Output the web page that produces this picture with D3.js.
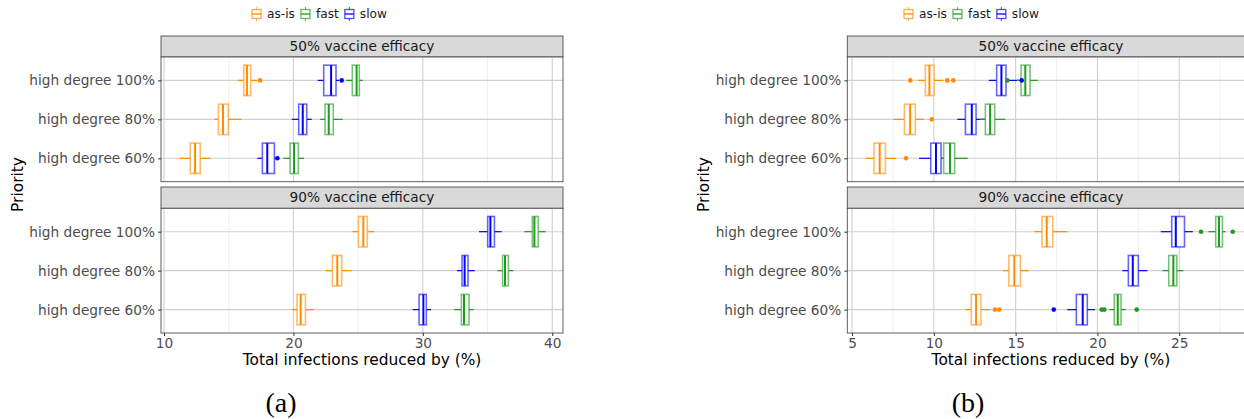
<!DOCTYPE html>
<html><head><meta charset="utf-8">
<script src="https://cdn.jsdelivr.net/npm/d3@7"></script>
<style>body{margin:0;background:#fff}svg{display:block}</style>
</head><body>
<svg id="chart" width="1244" height="419"></svg>
<script>
// ---------- DATA ----------
const priorities = ["high degree 100%", "high degree 80%", "high degree 60%"];
const strategies = ["as-is", "fast", "slow"];
const efficacies = ["50% vaccine efficacy", "90% vaccine efficacy"];
const xTicksA = [10, 20, 30, 40];
const xTicksB = [5, 10, 15, 20, 25];
const captions = ["(a)", "(b)"];
// rows: [priority, strategy, whiskerLow, q1, median, q3, whiskerHigh]
const statsA50 = [
  ["high degree 100%", "as-is", 15.72, 16.16, 16.41, 16.70, 17.21],
  ["high degree 100%", "slow", 21.88, 22.34, 22.91, 23.29, 23.55],
  ["high degree 100%", "fast", 24.07, 24.55, 24.88, 25.09, 25.36],
  ["high degree 80%", "as-is", 13.89, 14.20, 14.56, 14.97, 16.00],
  ["high degree 80%", "slow", 19.87, 20.41, 20.72, 21.03, 21.41],
  ["high degree 80%", "fast", 22.06, 22.44, 22.73, 23.08, 23.81],
  ["high degree 60%", "as-is", 11.18, 12.03, 12.40, 12.80, 13.61],
  ["high degree 60%", "slow", 17.21, 17.60, 17.98, 18.53, 18.66],
  ["high degree 60%", "fast", 19.22, 19.74, 20.05, 20.38, 20.82]
];
const outliersA50 = [
  ["high degree 100%", "as-is", 17.42],
  ["high degree 100%", "slow", 23.73],
  ["high degree 60%", "slow", 18.76]
];
const statsA90 = [
  ["high degree 100%", "as-is", 24.55, 25.02, 25.40, 25.71, 26.25],
  ["high degree 100%", "slow", 34.34, 35.01, 35.22, 35.53, 36.09],
  ["high degree 100%", "fast", 37.84, 38.46, 38.62, 38.92, 39.50],
  ["high degree 80%", "as-is", 22.48, 23.01, 23.39, 23.73, 24.50],
  ["high degree 80%", "slow", 32.64, 33.03, 33.23, 33.49, 34.01],
  ["high degree 80%", "fast", 35.76, 36.16, 36.35, 36.61, 36.99],
  ["high degree 60%", "as-is", 19.87, 20.28, 20.56, 20.93, 21.59],
  ["high degree 60%", "slow", 29.22, 29.71, 30.04, 30.27, 30.63],
  ["high degree 60%", "fast", 32.41, 32.98, 33.18, 33.57, 33.93]
];
const outliersA90 = [];
const statsB50 = [
  ["high degree 100%", "as-is", 9.05, 9.48, 9.73, 10.01, 10.58],
  ["high degree 100%", "slow", 13.36, 13.84, 14.13, 14.41, 15.19],
  ["high degree 100%", "fast", 15.07, 15.33, 15.59, 15.88, 16.35],
  ["high degree 80%", "as-is", 7.52, 8.20, 8.55, 8.87, 9.40],
  ["high degree 80%", "slow", 11.44, 11.93, 12.32, 12.58, 13.13],
  ["high degree 80%", "fast", 12.82, 13.15, 13.44, 13.72, 14.37],
  ["high degree 60%", "as-is", 5.84, 6.34, 6.69, 7.04, 7.69],
  ["high degree 60%", "slow", 9.10, 9.81, 10.13, 10.44, 10.79],
  ["high degree 60%", "fast", 10.44, 10.60, 10.99, 11.27, 12.07]
];
const outliersB50 = [
  ["high degree 100%", "as-is", 8.56], ["high degree 100%", "as-is", 10.82], ["high degree 100%", "as-is", 11.19],
  ["high degree 100%", "fast", 14.49], ["high degree 100%", "slow", 15.37],
  ["high degree 80%", "as-is", 9.87],
  ["high degree 60%", "as-is", 8.30]
];
const statsB90 = [
  ["high degree 100%", "as-is", 16.14, 16.61, 16.90, 17.27, 18.16],
  ["high degree 100%", "slow", 23.87, 24.54, 24.79, 25.32, 25.83],
  ["high degree 100%", "fast", 26.78, 27.23, 27.43, 27.64, 27.84],
  ["high degree 80%", "as-is", 14.23, 14.58, 14.92, 15.29, 15.80],
  ["high degree 80%", "slow", 21.52, 21.89, 22.16, 22.50, 23.05],
  ["high degree 80%", "fast", 23.97, 24.36, 24.64, 24.85, 25.25],
  ["high degree 60%", "as-is", 11.93, 12.29, 12.58, 12.88, 13.44],
  ["high degree 60%", "slow", 18.16, 18.71, 19.10, 19.38, 19.85],
  ["high degree 60%", "fast", 20.73, 21.03, 21.24, 21.44, 21.73]
];
const outliersB90 = [
  ["high degree 100%", "fast", 26.33], ["high degree 100%", "fast", 28.27],
  ["high degree 60%", "as-is", 13.74], ["high degree 60%", "as-is", 14.00],
  ["high degree 60%", "slow", 17.33],
  ["high degree 60%", "fast", 20.26], ["high degree 60%", "fast", 20.42], ["high degree 60%", "fast", 22.40]
];

// ---------- STYLE / LAYOUT ----------
const color = d3.scaleOrdinal().domain(strategies).range(["#ff8c00", "#1e9a1e", "#0000ff"]);
const FONT = "'DejaVu Sans', sans-serif";
const svg = d3.select("#chart");

const figs = [
  {left: 161, right: 563, domain: [9.768, 40.83], ticks: xTicksA, stats: [statsA50, statsA90], outs: [outliersA50, outliersA90],
   yTitleX: 18, legendX: 252, caption: captions[0], captionX: 281},
  {left: 847.3, right: 1254.5, domain: [4.71, 29.60], ticks: xTicksB, stats: [statsB50, statsB90], outs: [outliersB50, outliersB90],
   yTitleX: 704, legendX: 904, caption: captions[1], captionX: 968}
];
const panelsY = [{stripTop: 36, top: 57, bottom: 181.7}, {stripTop: 187, top: 208.3, bottom: 333}];

figs.forEach(cfg => {
  const g = svg.append("g");
  const x = d3.scaleLinear().domain(cfg.domain).range([cfg.left, cfg.right]);
  const step = cfg.ticks[1] - cfg.ticks[0];
  const minors = d3.range(cfg.ticks[0] - step / 2, cfg.domain[1], step).filter(t => t > cfg.domain[0] && t < cfg.domain[1]);

  panelsY.forEach((p, pi) => {
    const y = d3.scalePoint().domain(priorities).range([p.top, p.bottom]).padding(0.6);
    const bh = y.step() * 0.78;
    // strip
    g.append("rect").attr("x", cfg.left).attr("y", p.stripTop).attr("width", cfg.right - cfg.left).attr("height", p.top - p.stripTop)
      .attr("fill", "#d9d9d9").attr("stroke", "#4d4d4d").attr("stroke-width", 0.9);
    g.append("text").attr("x", (cfg.left + cfg.right) / 2).attr("y", (p.stripTop + p.top) / 2)
      .attr("dy", "0.35em").attr("text-anchor", "middle").attr("font-family", FONT).attr("font-size", 13.7)
      .attr("fill", "#1a1a1a").text(efficacies[pi]);
    // panel bg
    g.append("rect").attr("x", cfg.left).attr("y", p.top).attr("width", cfg.right - cfg.left).attr("height", p.bottom - p.top).attr("fill", "#fff");
    // grid
    g.selectAll(null).data(minors).enter().append("line")
      .attr("x1", d => x(d)).attr("x2", d => x(d)).attr("y1", p.top).attr("y2", p.bottom)
      .attr("stroke", "#ebebeb").attr("stroke-width", 0.8);
    g.selectAll(null).data(cfg.ticks).enter().append("line")
      .attr("x1", d => x(d)).attr("x2", d => x(d)).attr("y1", p.top).attr("y2", p.bottom)
      .attr("stroke", "#d0d0d0").attr("stroke-width", 1.1);
    g.selectAll(null).data(priorities).enter().append("line")
      .attr("x1", cfg.left).attr("x2", cfg.right).attr("y1", d => y(d)).attr("y2", d => y(d))
      .attr("stroke", "#d0d0d0").attr("stroke-width", 1.1);
    // boxes
    const bx = g.append("g");
    cfg.stats[pi].forEach(r => {
      const [pri, st, lo, q1, med, q3, hi] = r;
      const cy = y(pri), c = color(st);
      bx.append("line").attr("x1", x(lo)).attr("x2", x(q1)).attr("y1", cy).attr("y2", cy).attr("stroke", c).attr("stroke-width", 1.2);
      bx.append("line").attr("x1", x(q3)).attr("x2", x(hi)).attr("y1", cy).attr("y2", cy).attr("stroke", c).attr("stroke-width", 1.2);
      bx.append("rect").attr("x", x(q1)).attr("y", cy - bh / 2).attr("width", x(q3) - x(q1)).attr("height", bh)
        .attr("fill", "#fff").attr("stroke", c).attr("stroke-opacity", 0.6).attr("stroke-width", 1.6);
      bx.append("line").attr("x1", x(med)).attr("x2", x(med)).attr("y1", cy - bh / 2).attr("y2", cy + bh / 2)
        .attr("stroke", c).attr("stroke-width", 2);
    });
    cfg.outs[pi].forEach(o => {
      bx.append("circle").attr("cx", x(o[2])).attr("cy", y(o[0])).attr("r", 2.3).attr("fill", color(o[1]));
    });
    // border
    g.append("rect").attr("x", cfg.left).attr("y", p.top).attr("width", cfg.right - cfg.left).attr("height", p.bottom - p.top)
      .attr("fill", "none").attr("stroke", "#4d4d4d").attr("stroke-width", 0.9);
    // y axis
    const ya = g.append("g").attr("transform", `translate(${cfg.left},0)`).call(d3.axisLeft(y).tickSize(3).tickPadding(3));
    ya.select(".domain").remove();
    ya.selectAll("line").attr("stroke", "#333");
    ya.selectAll("text").attr("font-family", FONT).attr("font-size", 13.7).attr("fill", "#4d4d4d");
    if (pi === 1) {
      const xa = g.append("g").attr("transform", `translate(0,${p.bottom})`).call(d3.axisBottom(x).tickValues(cfg.ticks).tickSize(3).tickPadding(2));
      xa.select(".domain").remove();
      xa.selectAll("line").attr("stroke", "#333");
      xa.selectAll("text").attr("font-family", FONT).attr("font-size", 13.7).attr("fill", "#4d4d4d");
    }
  });
  // titles
  g.append("text").attr("x", (cfg.left + cfg.right) / 2).attr("y", 360).attr("dy", "0.35em")
    .attr("text-anchor", "middle").attr("font-family", FONT).attr("font-size", 15.4).attr("fill", "#000")
    .text("Total infections reduced by (%)");
  g.append("text").attr("transform", `translate(${cfg.yTitleX},${(panelsY[0].stripTop + panelsY[1].bottom) / 2}) rotate(-90)`)
    .attr("dy", "0.35em").attr("text-anchor", "middle").attr("font-family", FONT).attr("font-size", 15.4).attr("fill", "#000")
    .text("Priority");
  // legend
  const lg = g.append("g").attr("transform", `translate(${cfg.legendX},14)`);
  let lx = 0;
  strategies.forEach(s => {
    const c = color(s);
    const it = lg.append("g").attr("transform", `translate(${lx},0)`);
    it.append("line").attr("x1", 4.5).attr("x2", 4.5).attr("y1", -7).attr("y2", 7).attr("stroke", c).attr("stroke-opacity", 0.7).attr("stroke-width", 1);
    it.append("rect").attr("x", 0).attr("y", -4.5).attr("width", 9).attr("height", 9).attr("fill", "#fff").attr("stroke", c).attr("stroke-opacity", 0.7).attr("stroke-width", 1.3);
    it.append("line").attr("x1", 0).attr("x2", 9).attr("y1", 0).attr("y2", 0).attr("stroke", c).attr("stroke-width", 1.3);
    const t = it.append("text").attr("x", 15).attr("dy", "0.35em").attr("font-family", FONT).attr("font-size", 12.2).attr("fill", "#1a1a1a").text(s);
    lx += 15 + t.node().getComputedTextLength() + 6;
  });
  // caption
  g.append("text").attr("x", cfg.captionX).attr("y", 412).attr("text-anchor", "middle")
    .attr("font-family", "'Liberation Serif', 'DejaVu Serif', serif").attr("font-size", 28).attr("fill", "#000").text(cfg.caption);
});
</script>
</body></html>
